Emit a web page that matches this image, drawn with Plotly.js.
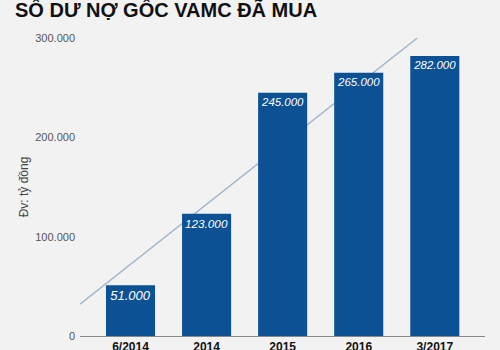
<!DOCTYPE html>
<html><head><meta charset="utf-8">
<script src="https://cdn.plot.ly/plotly-3.0.1.min.js"></script>
<style>html,body{margin:0;padding:0;background:#f2f2f2;}#c{width:500px;height:350px;}</style>
</head><body><div id="c"></div>
<script>
const categories = ["6/2014", "2014", "2015", "2016", "3/2017"];
const values = [51000, 123000, 245000, 265000, 282000];
const trendX = [-0.664, 3.77];
const trendY = [32000, 300000];
const yTicks = [0, 100000, 200000, 300000];

const xPos = categories.map((c, i) => i);
const xRange = [-0.664, 4.66];
const yRange = [0, 300000];

const data = [
  {
    type: 'scatter', mode: 'lines', x: trendX, y: trendY,
    xaxis: 'x', yaxis: 'y',
    line: {color: '#a3b6cb', width: 1.5},
    hoverinfo: 'skip'
  },
  {
    type: 'bar', x: xPos, y: values,
    xaxis: 'x2', yaxis: 'y2',
    marker: {color: '#0c5194'},
    text: values.map(v => v.toLocaleString('de-DE')),
    textposition: 'inside', insidetextanchor: 'end',
    textfont: {family: 'Liberation Sans, Arial', size: 13, color: '#ffffff', style: 'italic'},
    textangle: 0,
    hoverinfo: 'skip'
  }
];

const layout = {
  width: 500, height: 350,
  paper_bgcolor: '#f2f2f2', plot_bgcolor: '#f2f2f2',
  showlegend: false,
  separators: ',.',
  bargap: 0.355,
  margin: {l: 80, r: 15, t: 38, b: 14},
  title: {text: 'SỐ DƯ NỢ GỐC VAMC ĐÃ MUA', x: 0.03, xanchor: 'left', y: 0.972, yanchor: 'middle',
          font: {family: 'Liberation Sans, Arial', size: 20, color: '#111', weight: 'bold'}},
  xaxis: {
    range: xRange, tickvals: xPos, ticktext: categories,
    showgrid: false, zeroline: false, showline: true, linecolor: '#888', linewidth: 1,
    ticks: '', tickfont: {family: 'Liberation Sans, Arial', size: 12, color: '#111', weight: 'bold'},
    fixedrange: true
  },
  yaxis: {
    range: yRange, tickvals: yTicks, tickformat: ',d',
    showgrid: false, zeroline: false, showline: false, ticks: '',
    tickfont: {family: 'Liberation Sans, Arial', size: 11, color: '#555'},
    ticklabelstandoff: 4,
    title: {text: 'Đv: tỷ đồng', standoff: 4, font: {family: 'Liberation Sans, Arial', size: 12, color: '#444'}},
    fixedrange: true
  },
  xaxis2: {
    overlaying: 'x', range: xRange, showgrid: false, zeroline: false, showline: false,
    showticklabels: false, ticks: '', fixedrange: true
  },
  yaxis2: {
    overlaying: 'y', range: yRange, showgrid: false, zeroline: false, showline: false,
    showticklabels: false, ticks: '', fixedrange: true
  }
};

Plotly.newPlot('c', data, layout, {displayModeBar: false, staticPlot: true});
</script></body></html>
